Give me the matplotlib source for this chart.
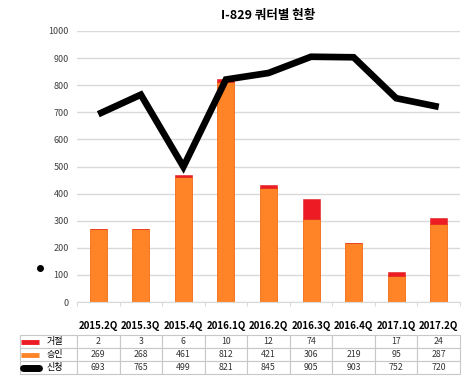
import matplotlib.pyplot as plt
from matplotlib.transforms import blended_transform_factory

plt.rcParams['font.family'] = ['Noto Sans CJK KR', 'DejaVu Sans']

quarters = ['2015.2Q', '2015.3Q', '2015.4Q', '2016.1Q', '2016.2Q',
            '2016.3Q', '2016.4Q', '2017.1Q', '2017.2Q']
rejected = [2, 3, 6, 10, 12, 74, 0, 17, 24]
approved = [269, 268, 461, 812, 421, 306, 219, 95, 287]
applied = [693, 765, 499, 821, 845, 905, 903, 752, 720]
row_names = ['거절', '승인', '신청']

RED = '#ED1C24'
ORANGE = '#FF8427'
GRID = '#D9D9D9'

fig = plt.figure(figsize=(4.74, 3.78), dpi=100)
ax = fig.add_axes([77 / 474, 1 - 302 / 378, 383 / 474, 271 / 378])

x = list(range(len(quarters)))
ax.bar(x, approved, width=0.4, color=ORANGE, edgecolor='#F36B12', linewidth=0.6, zorder=2)
ax.bar(x, rejected, width=0.4, bottom=approved, color=RED, edgecolor='#E0201F',
       linewidth=0.4, zorder=2)
ax.plot(x, applied, color='black', linewidth=4.8, solid_joinstyle='miter',
        solid_capstyle='butt', zorder=3)

ax.set_xlim(-0.5, 8.5)
ax.set_ylim(0, 1000)
ax.set_yticks(range(0, 1001, 100))
ax.tick_params(axis='y', length=0, labelsize=6.5, labelcolor='#404040', pad=6)
ax.grid(axis='y', color=GRID, linewidth=1, zorder=0)
for s in ['top', 'right', 'left']:
    ax.spines[s].set_visible(False)
ax.spines['bottom'].set_color(GRID)
ax.set_xticks([i - 0.5 for i in range(len(quarters) + 1)])
ax.tick_params(axis='x', length=3, color=GRID, labelbottom=False)

ax.set_title('I-829 쿼터별 현황', fontsize=9, fontweight='bold', pad=9)

# column headers
tr = blended_transform_factory(ax.transData, ax.transAxes)
for i, q in enumerate(quarters):
    ax.text(i, -0.088, q, transform=tr, ha='center', va='center',
            fontsize=7, fontweight='bold')

# data table
cells = [
    [''] + [str(v) if v else '' for v in rejected],
    [''] + [str(v) for v in approved],
    [''] + [str(v) for v in applied],
]
lw = 57 / 383
tbl = ax.table(cellText=cells, colWidths=[lw] + [1 / 9] * 9,
               bbox=[-lw, -0.2657, 1 + lw, 0.1439], cellLoc='center')
tbl.auto_set_font_size(False)
tbl.set_fontsize(6.3)
for (r, c), cell in tbl.get_celld().items():
    cell.set_edgecolor('#C8C8C8')
    cell.set_linewidth(0.8)
    cell.get_text().set_color('#333333')

# row labels with legend swatches
row_y = [-0.1458, -0.1938, -0.2418]
swatches = [(RED, 3.5, 'butt'), (ORANGE, 3.5, 'butt'), ('black', 5, 'round')]
for yy, name, (col, w, cap) in zip(row_y, row_names, swatches):
    x0, x1 = (-0.140, -0.100) if cap == 'round' else (-0.145, -0.098)
    ax.plot([x0, x1], [yy, yy], transform=ax.transAxes, color=col,
            linewidth=w, solid_capstyle=cap, clip_on=False)
    ax.text(-0.080, yy, name, transform=ax.transAxes, ha='left', va='center',
            fontsize=6.5)

# stray marker at left
ax.plot([-0.0966], [0.125], 'o', color='black', markersize=4,
        transform=ax.transAxes, clip_on=False)

fig.savefig('out.png', dpi=100)
